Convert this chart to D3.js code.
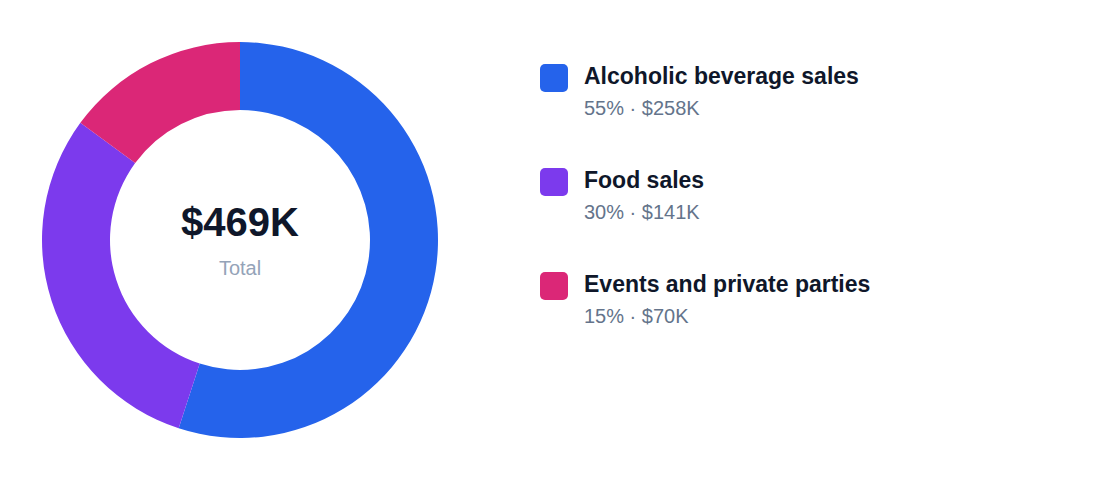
<!DOCTYPE html>
<html>
<head>
<meta charset="utf-8">
<script src="https://cdn.jsdelivr.net/npm/d3@7"></script>
<style>
  body { margin: 0; background: #fff; }
  text { font-family: "Liberation Sans", Arial, sans-serif; }
</style>
</head>
<body>
<svg id="chart" width="1120" height="480"></svg>
<script>
// data
const categories = ["Alcoholic beverage sales", "Food sales", "Events and private parties"];
const values = [258, 141, 70];
const percents = ["55%", "30%", "15%"];
const colors = ["#2563eb", "#7c3aed", "#db2777"];
const totalLabel = "$469K";

const svg = d3.select("#chart");
const cx = 240, cy = 240;

const pie = d3.pie().sort(null).value(d => d);
const arc = d3.arc().innerRadius(130).outerRadius(198);

const g = svg.append("g").attr("transform", `translate(${cx},${cy})`);
g.selectAll("path")
  .data(pie(values))
  .join("path")
  .attr("d", arc)
  .attr("fill", (d, i) => colors[i]);

g.append("text")
  .attr("text-anchor", "middle")
  .attr("y", -4)
  .attr("font-size", 40)
  .attr("font-weight", "bold")
  .attr("fill", "#0f172a")
  .text(totalLabel);

g.append("text")
  .attr("text-anchor", "middle")
  .attr("y", 35)
  .attr("font-size", 20)
  .attr("fill", "#94a3b8")
  .text("Total");

// legend
const legend = svg.append("g").attr("transform", "translate(540,64)");
const item = legend.selectAll("g")
  .data(categories)
  .join("g")
  .attr("transform", (d, i) => `translate(0,${i * 104})`);

item.append("rect")
  .attr("width", 28).attr("height", 28).attr("rx", 5)
  .attr("fill", (d, i) => colors[i]);

item.append("text")
  .attr("x", 44).attr("y", 20)
  .attr("font-size", 23).attr("font-weight", "bold")
  .attr("fill", "#0f172a")
  .text(d => d);

item.append("text")
  .attr("x", 44).attr("y", 51)
  .attr("font-size", 20)
  .attr("fill", "#64748b")
  .text((d, i) => `${percents[i]} · $${values[i]}K`);
</script>
</body>
</html>
